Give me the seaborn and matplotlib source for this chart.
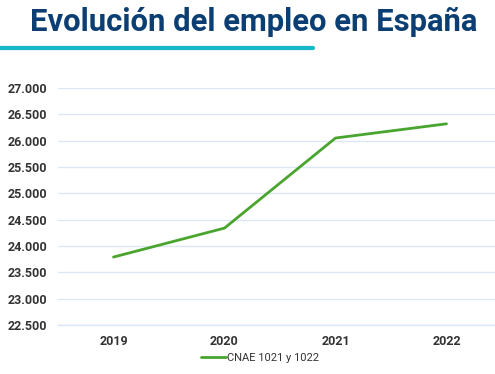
import matplotlib
matplotlib.use("Agg")
import matplotlib.pyplot as plt
import seaborn as sns
import pandas as pd
from matplotlib.ticker import FuncFormatter, FixedLocator

# data
years = ["2019", "2020", "2021", "2022"]
empleo = [23790, 24340, 26050, 26320]
y_ticks = [22500, 23000, 23500, 24000, 24500, 25000, 25500, 26000, 26500, 27000]

df = pd.DataFrame({"year": years, "empleo": empleo})

sns.set_style("white")
plt.rcParams["font.family"] = ["Roboto", "DejaVu Sans"]

fig = plt.figure(figsize=(4.95, 3.74), dpi=100)
ax = fig.add_axes([58 / 495, 1 - 325 / 374, 437 / 495, 237 / 374])

sns.lineplot(data=df, x="year", y="empleo", color="#4aa52e", linewidth=2,
             label="CNAE 1021 y 1022", ax=ax, sort=False)

ax.set_ylim(22500, 27000)
ax.set_xlim(-0.5, -0.5 + 437 / 111)
ax.set_yticks(y_ticks)
ax.yaxis.set_major_formatter(FuncFormatter(lambda v, p: f"{int(v):,}".replace(",", ".")))
ax.grid(axis="y", color="#dce7f5", linewidth=1)
ax.set_axisbelow(True)
for s in ["top", "right", "left"]:
    ax.spines[s].set_visible(False)
ax.spines["bottom"].set_color("#dce7f5")
ax.spines["bottom"].set_linewidth(1)

ax.tick_params(axis="y", length=0, pad=8, labelsize=9, labelcolor="#333333")
ax.tick_params(axis="x", length=0, pad=7, labelsize=9, labelcolor="#333333")
for lab in ax.get_xticklabels() + ax.get_yticklabels():
    lab.set_fontweight("bold")
# band separators under the axis
ax.xaxis.set_minor_locator(FixedLocator([-0.5, 0.5, 1.5, 2.5]))
ax.tick_params(axis="x", which="minor", length=5, color="#dce7f5", width=1)

ax.set_xlabel("")
ax.set_ylabel("")

leg = ax.legend(loc="center", bbox_to_anchor=(202 / 437, -33 / 237), frameon=False,
                fontsize=8, handlelength=2.2, handletextpad=0.1,
                borderpad=0, borderaxespad=0)
for t in leg.get_texts():
    t.set_color("#333333")

fig.text(0.512, 1 - 22 / 374, "Evolución del empleo en España", ha="center", va="center",
         fontsize=22.3, fontweight="bold", color="#0b3f73")
fig.add_artist(plt.Line2D([0, 313 / 495], [1 - 48 / 374, 1 - 48 / 374],
                          color="#17b6c9", linewidth=3, transform=fig.transFigure))

fig.savefig("out.png", dpi=100)
